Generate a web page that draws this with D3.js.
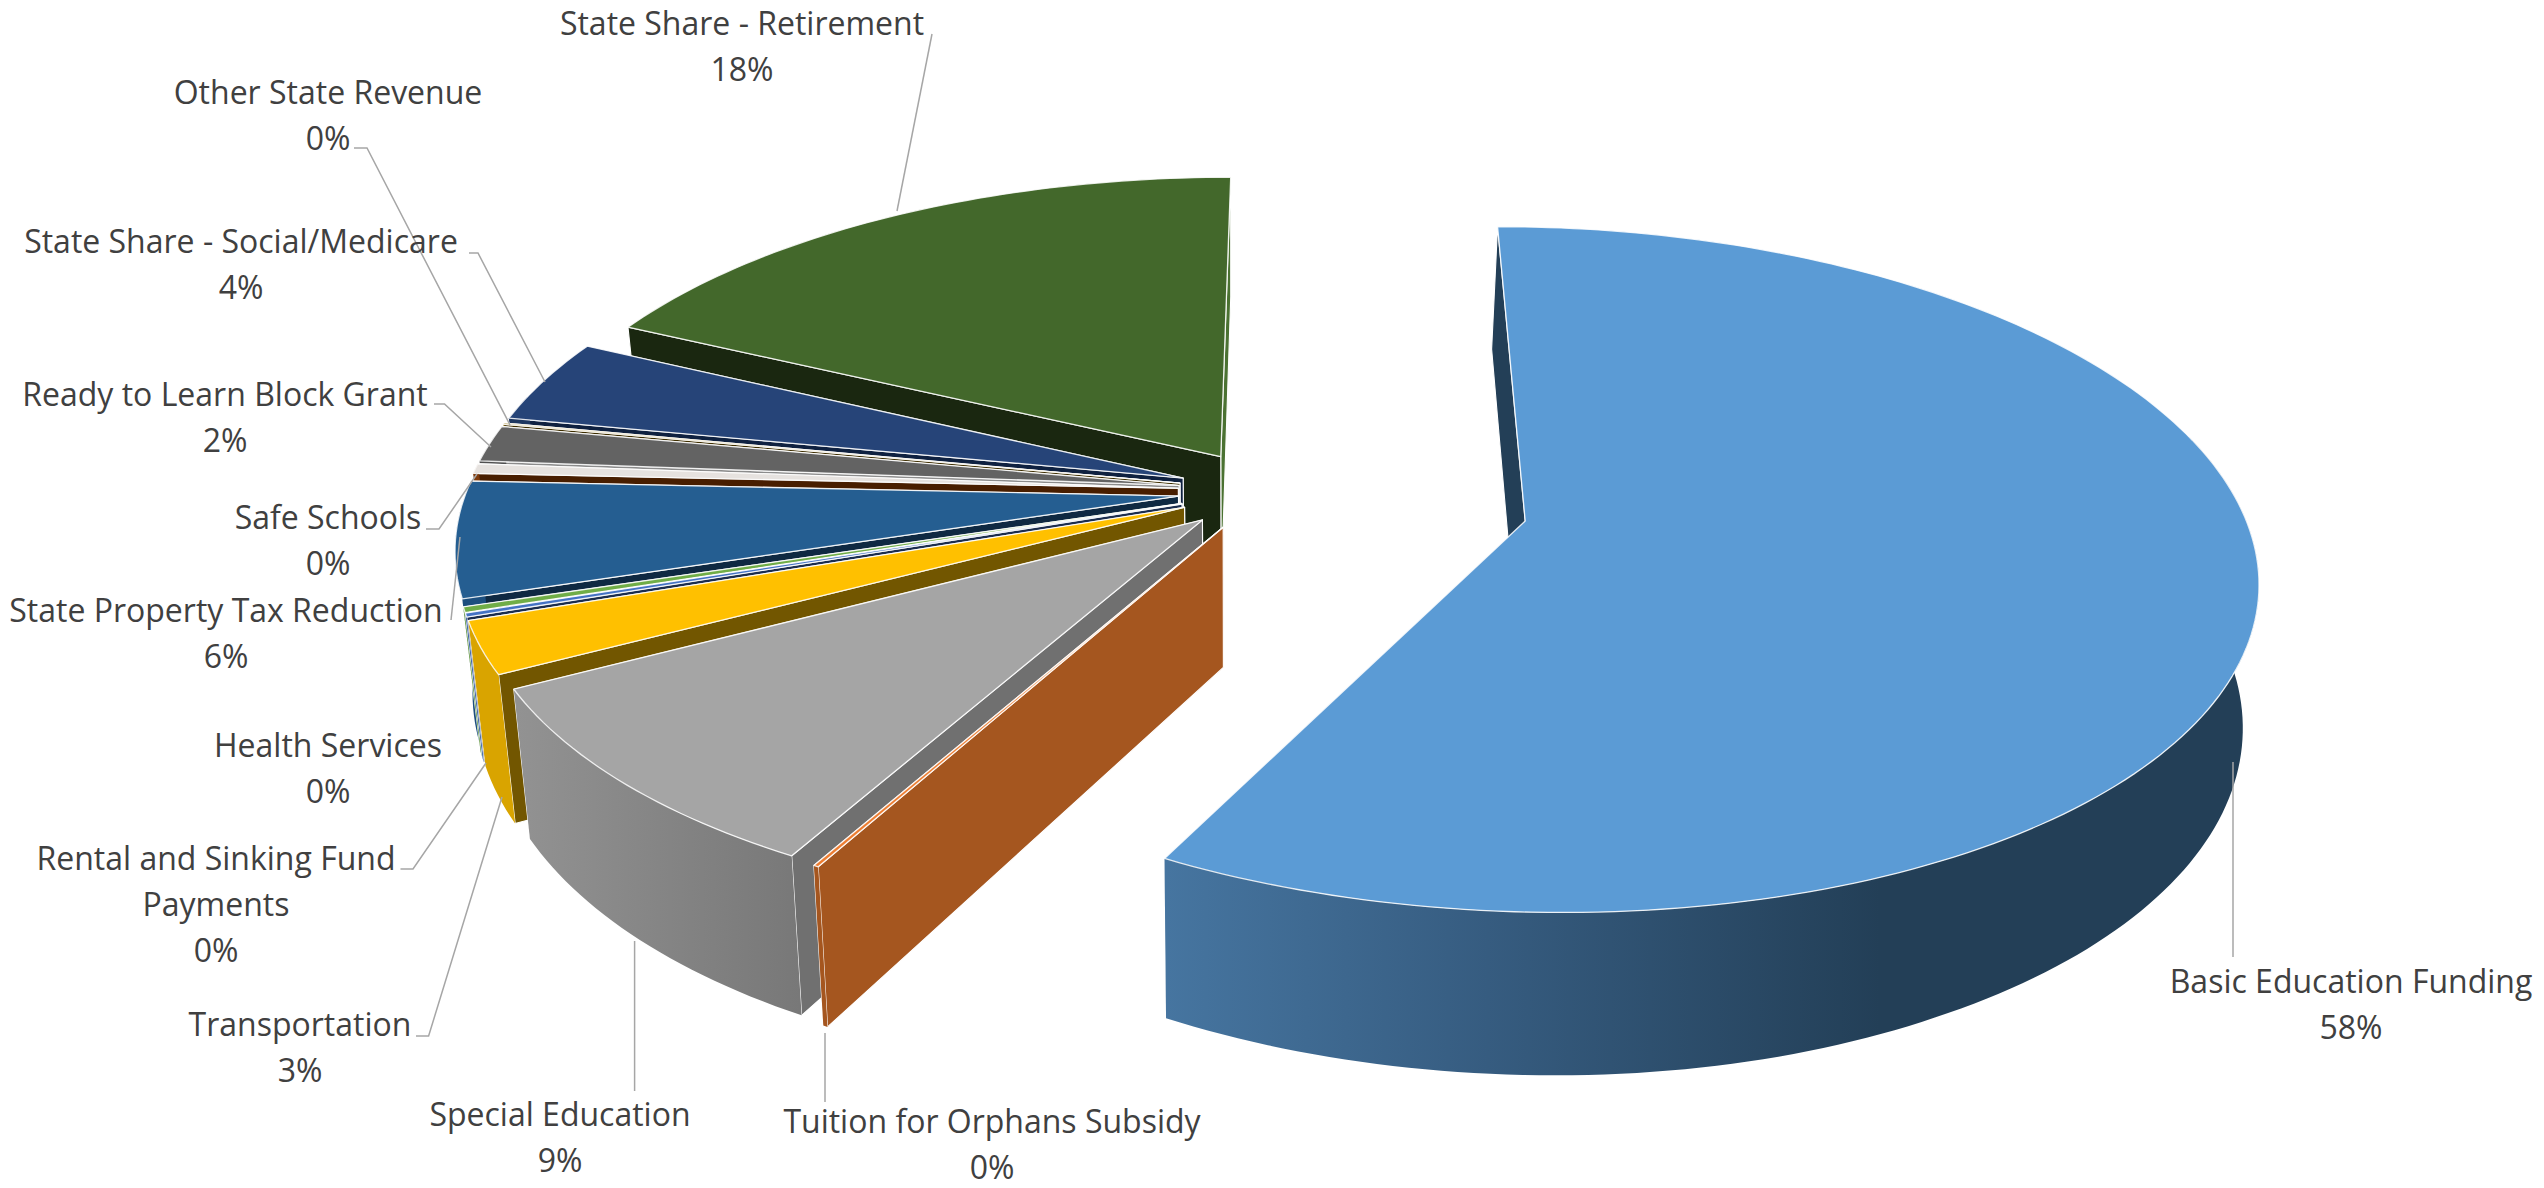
<!DOCTYPE html>
<html><head><meta charset="utf-8">
<script src="https://cdn.jsdelivr.net/npm/d3@7/dist/d3.min.js"></script>
<style>html,body{margin:0;padding:0;background:#fff}svg{display:block}</style>
</head><body>
<svg id="c" width="2544" height="1188"></svg>
<script>
// ---- data ----
const categories = ["Basic Education Funding","Tuition for Orphans Subsidy","Special Education","Transportation","Rental and Sinking Fund Payments","Health Services","State Property Tax Reduction","Safe Schools","Ready to Learn Block Grant","Other State Revenue","State Share - Social/Medicare","State Share - Retirement"];
const values = [57.9,0.1,9.2,2.52,0.18,0.26,5.57,0.48,1.76,0.07,4.06,17.9];
const explode = [0.37,0.125,0.125,0.125,0.125,0.125,0.125,0.125,0.125,0.125,0.125,0.125];
// ---- colours ----
const topColors  = ["#5B9BD5","#ED7D31","#A5A5A5","#FFC000","#4472C4","#70AD47","#255E91","#E6E2DF","#636363","#997300","#264478","#43682B"];
const wallColors = ["#233F57","#A5561F","#707070","#725600","#1B2D4E","#2C4A1C","#0F2942","#481E00","#8C8C8C","#3E2E00","#0F2140","#1A2710"];
const endColors  = ["#233F57","#A5561F","#707070","#725600","#1B2D4E","#2C4A1C","#0F2942","#481E00","#8C8C8C","#3E2E00","#0F2140","#4B7232"];
const curveColors= ["url(#gBlue)","#A5561F","url(#gGray)","#D9A400","#3A62A8","#5C9339","#1D4F7E","#7E3A0B","#505050","#7E5F00","#1E3760","#365523"];
// ---- labels: lines and centre positions ----
const labelLines = [["Basic Education Funding"],["Tuition for Orphans Subsidy"],["Special Education"],["Transportation"],["Rental and Sinking Fund","Payments"],["Health Services"],["State Property Tax Reduction"],["Safe Schools"],["Ready to Learn Block Grant"],["Other State Revenue"],["State Share - Social/Medicare"],["State Share - Retirement"]];
const labelX = [2351,992,560,300,216,328,226,328,225,328,241,742];
const labelY = [981,1121,1114,1024,858,745,610,517,394,92,241,23];
const leaders = [
 [[2233,957],[2233,762]],
 [[825,1102],[825,1033]],
 [[634.6,1091],[634.6,941]],
 [[416,1036],[428.6,1036],[502,797]],
 [[400.5,869],[413,869],[486,763]],
 null,
 [[451,620],[460,537]],
 [[426,529],[439,529],[477,474]],
 [[434,404],[444.5,404],[491,447]],
 [[354,148],[367,148],[510,425]],
 [[469,253],[478,253],[545,382]],
 [[932,34],[897,211]]
];

// ---- projection of the pie plane ----
const P = {ox:1267, oy:490.8, R:712, S:327.5, T:138, k:0.14, q:-5, vx:1233, c:0.0225, cMax:720};
function project(X,Y,Z){
  const w = 1 - P.k*Y;
  let sx = P.ox + (P.R*X + P.q*Y)/w;
  const sy = P.oy + (P.S*Y + P.T*Z)/w;
  sx -= P.c*Z*Math.min(sx-P.vx,P.cMax);
  return [sx,sy];
}
const pie = d3.pie().sort(null).value(d=>d)(values);
const line = d3.line();
const svg = d3.select("#c");
const defs = svg.append("defs");
function grad(id,x1,x2,stops){
  const g = defs.append("linearGradient").attr("id",id).attr("gradientUnits","userSpaceOnUse")
    .attr("x1",x1).attr("x2",x2).attr("y1",0).attr("y2",0);
  stops.forEach(s=>g.append("stop").attr("offset",s[0]).attr("stop-color",s[1]));
}
grad("gBlue",1166,1880,[[0,"#4675A0"],[0.45,"#365C80"],[1,"#233F57"]]);
grad("gGray",518,800,[[0,"#929292"],[1,"#787878"]]);

// the outer wall faces the viewer only on this range of angles
const frontFrom = 75*Math.PI/180, frontTo = 285*Math.PI/180;
const order = d3.range(values.length).slice(1).reverse().concat([0]);
const pieG = svg.append("g");
order.forEach(i=>{
  const a = pie[i];
  const mid = (a.startAngle+a.endAngle)/2, e = explode[i];
  const x0 = e*Math.sin(mid), y0 = -e*Math.cos(mid);
  const at = (ang,r,z)=>project(x0+r*Math.sin(ang), y0-r*Math.cos(ang), z);
  const arcAngles = (s,t)=>{ const n=Math.max(2,Math.ceil((t-s)/0.02)); return d3.range(n+1).map(j=>s+(t-s)*j/n); };
  const topArc = arcAngles(a.startAngle,a.endAngle).map(t=>at(t,1,0));
  const g = pieG.append("g").attr("data-name",categories[i]);
  // radial walls
  g.append("path").attr("d",line([at(0,0,0),at(a.endAngle,1,0),at(a.endAngle,1,1),at(0,0,1)])+"Z")
   .attr("fill",endColors[i]).attr("stroke","#fff").attr("stroke-width",1.1).attr("stroke-linejoin","round");
  g.append("path").attr("d",line([at(0,0,0),at(a.startAngle,1,0),at(a.startAngle,1,1),at(0,0,1)])+"Z")
   .attr("fill",wallColors[i]).attr("stroke","#fff").attr("stroke-width",1.1).attr("stroke-linejoin","round");
  // curved wall, front-facing part only
  const s = Math.max(a.startAngle,frontFrom), t = Math.min(a.endAngle,frontTo);
  if(t>s){
    const fa = arcAngles(s,t);
    g.append("path").attr("d",line(fa.map(u=>at(u,1,0)).concat(fa.slice().reverse().map(u=>at(u,1,1))))+"Z").attr("fill",curveColors[i]);
  }
  // top face
  g.append("path").attr("d",line([at(0,0,0)].concat(topArc))+"Z")
   .attr("fill",topColors[i]).attr("stroke","#fff").attr("stroke-width",1.3).attr("stroke-opacity",0.85).attr("stroke-linejoin","round");
});

// leaders
const leadG = svg.append("g");
leaders.forEach(l=>{ if(l) leadG.append("path").attr("d",line(l)).attr("fill","none").attr("stroke","#A6A6A6").attr("stroke-width",1.5); });

// labels
const total = d3.sum(values);
const lineH = 46;
const txtG = svg.append("g").attr("font-family","'Open Sans'").attr("font-size",32).attr("fill","#404040").attr("text-anchor","middle");
categories.forEach((c,i)=>{
  const lines = labelLines[i].concat([Math.round(values[i]/total*100)+"%"]);
  lines.forEach((s,j)=>{
    txtG.append("text").attr("x",labelX[i]).attr("y",labelY[i]+j*lineH).attr("dy","0.36em").text(s);
  });
});
</script>
</body></html>
